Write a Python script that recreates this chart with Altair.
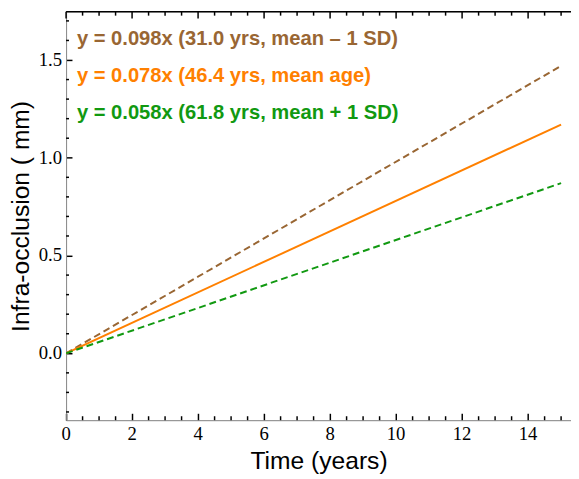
import altair as alt
import pandas as pd

# ---- data ----
time_years = [0, 15]
y_mean_minus_sd = [0.0, 1.47]   # y = 0.098x
y_mean_age = [0.0, 1.17]        # y = 0.078x
y_mean_plus_sd = [0.0, 0.87]    # y = 0.058x

series_names = ["mean - 1 SD", "mean age", "mean + 1 SD"]
series_colors = ["#996633", "#ff8000", "#119911"]
label_texts = [
    "y = 0.098x (31.0 yrs, mean \u2013 1 SD)",
    "y = 0.078x (46.4 yrs, mean age)",
    "y = 0.058x (61.8 yrs, mean + 1 SD)",
]

x_major = [0, 2, 4, 6, 8, 10, 12, 14]
x_minor = [v / 2 for v in range(0, 31) if (v / 2) not in x_major]
y_major = [0.0, 0.5, 1.0, 1.5]
y_minor = [round(v / 10, 1) for v in range(-3, 18) if round(v / 10, 1) not in y_major]

W, H = 513, 415
x_dom = [0, 15.3]
y_dom = [-0.342, 1.747]

rows = []
for name, yv_list in zip(series_names, [y_mean_minus_sd, y_mean_age, y_mean_plus_sd]):
    for xv, yv in zip(time_years, yv_list):
        rows.append({"t": xv, "y": yv, "s": name})
for v in x_major:
    rows.append({"t": v, "s": "xmaj"})
for v in x_minor:
    rows.append({"t": v, "s": "xmin"})
for v in y_major:
    rows.append({"y": v, "s": "ymaj"})
for v in y_minor:
    rows.append({"y": v, "s": "ymin"})
df = pd.DataFrame(rows)

xs = alt.Scale(domain=x_dom, nice=False, zero=False)
ys = alt.Scale(domain=y_dom, nice=False, zero=False)

TW = 1.5  # tick stroke width

x_axis = alt.Axis(
    title="Time (years)", values=x_major, labels=False, grid=False,
    ticks=True, tickSize=alt.ExprRef(expr="-7"), tickColor="black", tickWidth=TW,
    titleFont="Liberation Sans", titleFontSize=25, titleFontWeight="normal",
    titleColor="black", titlePadding=28)
y_axis = alt.Axis(
    title="Infra-occlusion ( mm)", values=y_major, labels=False, grid=False,
    ticks=True, tickSize=alt.ExprRef(expr="-6"), tickColor="black", tickWidth=TW,
    titleFont="Liberation Sans", titleFontSize=25, titleFontWeight="normal",
    titleColor="black", titlePadding=32)

base = alt.Chart(df)

def line_layer(name, color, dash):
    kw = dict(color=color, strokeWidth=2, clip=True)
    if dash:
        kw["strokeDash"] = dash
    return base.transform_filter(alt.datum.s == name).mark_line(**kw).encode(
        x=alt.X("t:Q", scale=xs, axis=x_axis),
        y=alt.Y("y:Q", scale=ys, axis=y_axis),
    )

lines = [
    line_layer(series_names[0], series_colors[0], [7, 4]),
    line_layer(series_names[1], series_colors[1], None),
    line_layer(series_names[2], series_colors[2], [7, 4]),
]

def xticks(kind, length, bottom_too):
    b = base.transform_filter(alt.datum.s == kind)
    out = [b.mark_rule(color="black", strokeWidth=TW).encode(
        x=alt.X("t:Q", scale=xs, axis=x_axis), y=alt.value(0), y2=alt.value(length))]
    if bottom_too:
        out.append(b.mark_rule(color="black", strokeWidth=TW).encode(
            x=alt.X("t:Q", scale=xs, axis=x_axis), y=alt.value(H), y2=alt.value(H - length)))
    return out

def yticks(kind, length):
    b = base.transform_filter(alt.datum.s == kind)
    return [b.mark_rule(color="black", strokeWidth=TW).encode(
        y=alt.Y("y:Q", scale=ys, axis=y_axis), x=alt.value(0), x2=alt.value(length))]

tick_layers = xticks("xmaj", 7, False) + xticks("xmin", 4, True) + yticks("ymin", 3)

# tick labels as text placed through the shared scales
x_labels = base.transform_filter(alt.datum.s == "xmaj").mark_text(
    font="Liberation Serif", fontSize=19, color="black", align="center", baseline="alphabetic"
).encode(x=alt.X("t:Q", scale=xs, axis=x_axis), y=alt.value(H + 20),
         text=alt.Text("t:Q", format="d"))
y_labels = base.transform_filter(alt.datum.s == "ymaj").mark_text(
    font="Liberation Serif", fontSize=19, color="black", align="right", baseline="middle"
).encode(y=alt.Y("y:Q", scale=ys, axis=y_axis), x=alt.value(-4),
         text=alt.Text("y:Q", format=".1f"))

top_frame = alt.Chart(pd.DataFrame({"a": [0]})).mark_rule(color="black", strokeWidth=1.5).encode(
    x=alt.value(0), x2=alt.value(W), y=alt.value(0))

text_layers = []
for i, (txt, col) in enumerate(zip(label_texts, series_colors)):
    text_layers.append(
        alt.Chart(pd.DataFrame({"label": [txt]})).mark_text(
            font="Liberation Sans", fontSize=20.5, fontWeight="bold", color=col,
            align="left", baseline="alphabetic"
        ).encode(text="label:N", x=alt.value(11), y=alt.value(34 + i * 37.5))
    )

chart = alt.layer(*lines, *tick_layers, x_labels, y_labels, top_frame, *text_layers).properties(
    width=W, height=H,
    autosize=alt.AutoSizeParams(type="none"),
    padding={"left": 59, "top": 0, "right": 0, "bottom": 56},
).configure_view(stroke=None).configure_axis(
    domainColor="black", domainWidth=1.5,
).configure(background="white")

chart.save("out.html", embed_options={"renderer": "svg", "actions": False})
